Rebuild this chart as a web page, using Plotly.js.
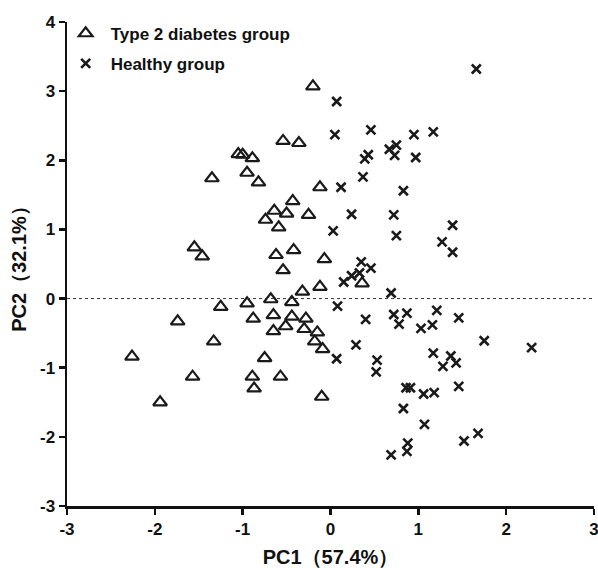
<!DOCTYPE html>
<html>
<head>
<meta charset="utf-8">
<script src="https://cdn.plot.ly/plotly-3.0.1.min.js"></script>
<style>html,body{margin:0;padding:0;background:#fff;}#chart{width:598px;height:568px;}</style>
</head>
<body>
<div id="chart"></div>
<script>
// Type 2 diabetes group (PC1, PC2)
var diabetesPC1 = [-0.20,-0.54,-0.36,-1.05,-1.00,-0.89,-0.95,-1.35,-0.82,-0.12,-0.43,-0.64,-0.50,-0.25,-0.74,-0.59,-1.55,-1.46,-0.62,-0.42,-0.07,-0.54,-0.12,-0.32,0.36,-0.68,-0.95,-1.25,-0.44,-1.74,-0.88,-0.65,-0.44,-0.28,-0.65,-0.51,-0.30,-0.15,-0.18,-0.09,-1.33,-2.26,-0.75,-1.57,-0.89,-0.57,-0.87,-1.94,-0.10];
var diabetesPC2 = [3.07,2.28,2.25,2.09,2.08,2.03,1.82,1.74,1.68,1.61,1.41,1.27,1.23,1.21,1.14,1.03,0.74,0.61,0.63,0.70,0.57,0.41,0.17,0.10,0.22,-0.01,-0.07,-0.12,-0.05,-0.33,-0.29,-0.24,-0.26,-0.29,-0.47,-0.40,-0.44,-0.49,-0.62,-0.73,-0.62,-0.84,-0.86,-1.13,-1.13,-1.13,-1.30,-1.50,-1.42];
// Healthy group (PC1, PC2)
var healthyPC1 = [1.66,0.07,0.05,0.46,0.95,1.17,0.67,0.75,0.73,0.43,0.39,0.97,0.37,0.12,0.83,0.24,0.72,0.75,0.03,1.39,1.27,1.39,0.35,0.46,0.33,0.24,0.15,0.69,0.08,0.40,0.72,0.87,0.78,1.03,1.16,1.21,1.46,1.75,2.29,0.29,0.07,0.53,0.52,1.17,1.37,1.43,1.28,0.86,0.91,1.06,1.18,1.46,0.83,1.07,1.52,1.68,0.88,0.87,0.69];
var healthyPC2 = [3.32,2.85,2.37,2.44,2.37,2.41,2.16,2.22,2.07,2.08,2.02,2.04,1.76,1.61,1.56,1.22,1.21,0.91,0.98,1.06,0.82,0.67,0.53,0.44,0.37,0.33,0.24,0.08,-0.11,-0.30,-0.23,-0.21,-0.37,-0.43,-0.38,-0.17,-0.28,-0.61,-0.71,-0.67,-0.87,-0.89,-1.06,-0.79,-0.83,-0.93,-0.98,-1.29,-1.29,-1.38,-1.36,-1.27,-1.59,-1.82,-2.06,-1.95,-2.09,-2.21,-2.26];
var seriesNames = ['Type 2 diabetes group', 'Healthy group'];
var xTicks = [-3,-2,-1,0,1,2,3];
var yTicks = [-3,-2,-1,0,1,2,3,4];

var fontFam = 'Liberation Sans, Arial, Helvetica, sans-serif';
var traces = [
  {x: diabetesPC1, y: diabetesPC2, type: 'scatter', mode: 'markers', name: seriesNames[0], legendgroup: 'a',
   marker: {symbol: 'triangle-up-open', size: 12, color: '#1a1a1a', line: {width: 2.2, color: '#1a1a1a'}}},
  {x: healthyPC1, y: healthyPC2, type: 'scatter', mode: 'markers', name: seriesNames[1], legendgroup: 'b',
   marker: {symbol: 'x-thin-open', size: 9, color: '#1a1a1a', line: {width: 2.6, color: '#1a1a1a'}}}
];
var axisCommon = {
  showgrid: false, zeroline: false, showline: true, linecolor: '#111', linewidth: 2.5,
  ticks: 'outside', ticklen: 6, tickwidth: 2.5, tickcolor: '#111', ticklabeloverflow: 'allow',
  tickfont: {family: fontFam, size: 17, color: '#111', weight: 'bold'}
};
var layout = {
  width: 598, height: 568,
  margin: {l: 67, r: 4, t: 22, b: 62},
  paper_bgcolor: '#fff', plot_bgcolor: '#fff',
  showlegend: true,
  legend: {x: -0.012, y: 1.013, xanchor: 'left', yanchor: 'top', bgcolor: 'rgba(0,0,0,0)',
           traceorder: 'grouped', tracegroupgap: 5, itemwidth: 40,
           font: {family: fontFam, size: 17, color: '#111', weight: 'bold'}},
  xaxis: Object.assign({}, axisCommon, {range: [-3, 3], tickvals: xTicks, ticktext: xTicks.map(String),
    title: {text: 'PC1（57.4%）', standoff: 13, font: {family: fontFam, size: 20, color: '#111', weight: 'bold'}}}),
  yaxis: Object.assign({}, axisCommon, {range: [-3, 4], tickvals: yTicks, ticktext: yTicks.map(String),
    title: {text: 'PC2（32.1%）', standoff: 8, font: {family: fontFam, size: 20, color: '#111', weight: 'bold'}}}),
  shapes: [{type: 'line', xref: 'paper', yref: 'y', x0: 0, x1: 1, y0: 0, y1: 0,
            line: {color: '#333', width: 1, dash: 'dot'}}]
};
Plotly.newPlot('chart', traces, layout, {staticPlot: true, displayModeBar: false});
</script>
</body>
</html>
